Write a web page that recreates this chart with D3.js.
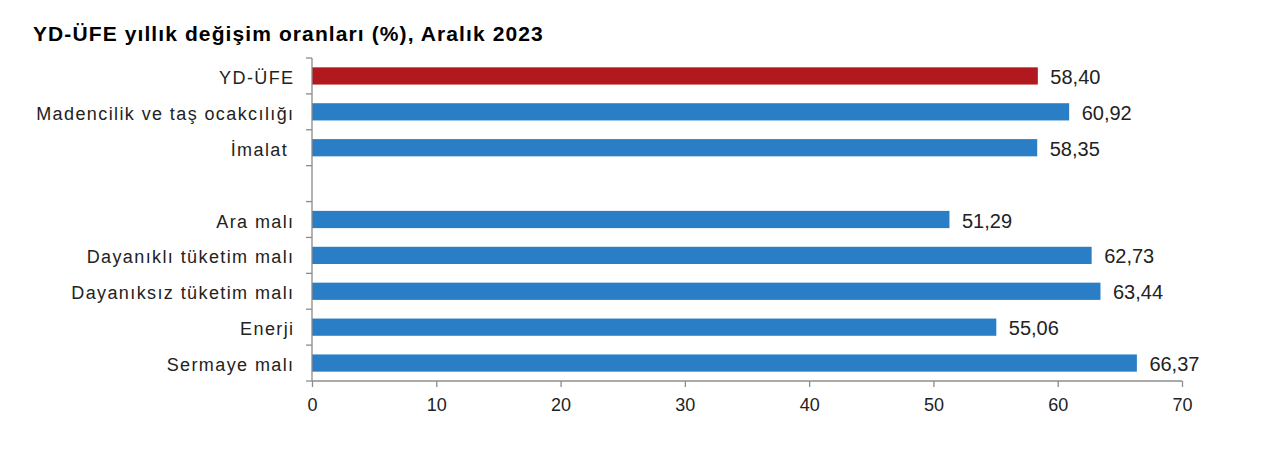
<!DOCTYPE html>
<html><head><meta charset="utf-8">
<script src="https://cdn.jsdelivr.net/npm/d3@7"></script>
<style>
body{margin:0;background:#fff;}
svg{display:block;font-family:"Liberation Sans",Arial,sans-serif;}
</style></head>
<body><svg id="c" width="1267" height="450"></svg>
<script>
const categories = ["YD-ÜFE","Madencilik ve taş ocakcılığı","İmalat ","","Ara malı","Dayanıklı tüketim malı","Dayanıksız tüketim malı","Enerji","Sermaye malı"];
const values = [58.40, 60.92, 58.35, null, 51.29, 62.73, 63.44, 55.06, 66.37];
const labels = ["58,40","60,92","58,35","","51,29","62,73","63,44","55,06","66,37"];
const xTicks = [0,10,20,30,40,50,60,70];
const title = "YD-ÜFE yıllık değişim oranları (%), Aralık 2023";

const svg = d3.select("#c");
const x = d3.scaleLinear().domain([0,70]).range([312,1182]);
const y = d3.scaleBand().domain(d3.range(categories.length)).range([58,381]).paddingInner(0.52).paddingOuter(0.26);
const step = y.step();

svg.append("text").attr("x",33).attr("y",41).attr("font-size",21).attr("font-weight","bold")
  .attr("letter-spacing",1.1).attr("fill","#000").text(title);

const data = values.map((v,i)=>({v,i})).filter(d=>d.v!=null);
// bars
svg.selectAll("rect.bar").data(data).join("rect")
  .attr("class","bar")
  .attr("x",x(0)).attr("y",d=>y(d.i)).attr("height",y.bandwidth())
  .attr("width",d=>x(d.v)-x(0))
  .attr("fill",d=>d.i===0?"#B2191E":"#2A7EC5");

// value labels
svg.selectAll("text.val").data(data).join("text")
  .attr("class","val")
  .attr("x",d=>x(d.v)+12.5).attr("y",d=>y(d.i)+y.bandwidth()/2).attr("dy","0.4em")
  .attr("font-size",20).attr("fill","#222").text(d=>labels[d.i]);

// y axis line and ticks
const axisColor="#8c8c8c";
svg.append("line").attr("x1",x(0)).attr("x2",x(0)).attr("y1",58).attr("y2",381).attr("stroke",axisColor).attr("stroke-width",1.3);
const bounds = d3.range(categories.length+1).map(i=>58+i*step);
svg.selectAll("line.yt").data(bounds).join("line").attr("class","yt")
  .attr("x1",x(0)-6).attr("x2",x(0)).attr("y1",d=>d).attr("y2",d=>d).attr("stroke",axisColor).attr("stroke-width",1.3);
svg.selectAll("text.cat").data(categories).join("text").attr("class","cat")
  .attr("x",294.5).attr("y",(d,i)=>y(i)+y.bandwidth()/2).attr("dy","0.45em")
  .attr("text-anchor","end").attr("font-size",18).attr("letter-spacing",1.4)
  .attr("xml:space","preserve").style("white-space","pre")
  .attr("fill","#222").text(d=>d);

// x axis
const xAxis = d3.axisBottom(x).tickValues(xTicks).tickSize(6).tickFormat(d3.format("d"));
const gx = svg.append("g").attr("transform","translate(0,381)").call(xAxis);
gx.select(".domain").attr("stroke",axisColor).attr("stroke-width",1.3).attr("d",`M${x(0)},0H${x(70)}`);
gx.selectAll(".tick line").attr("stroke",axisColor).attr("stroke-width",1.3);
gx.selectAll(".tick text").attr("font-size",18).attr("fill","#222").attr("y",17).attr("font-family","Liberation Sans, Arial, sans-serif");
</script></body></html>
